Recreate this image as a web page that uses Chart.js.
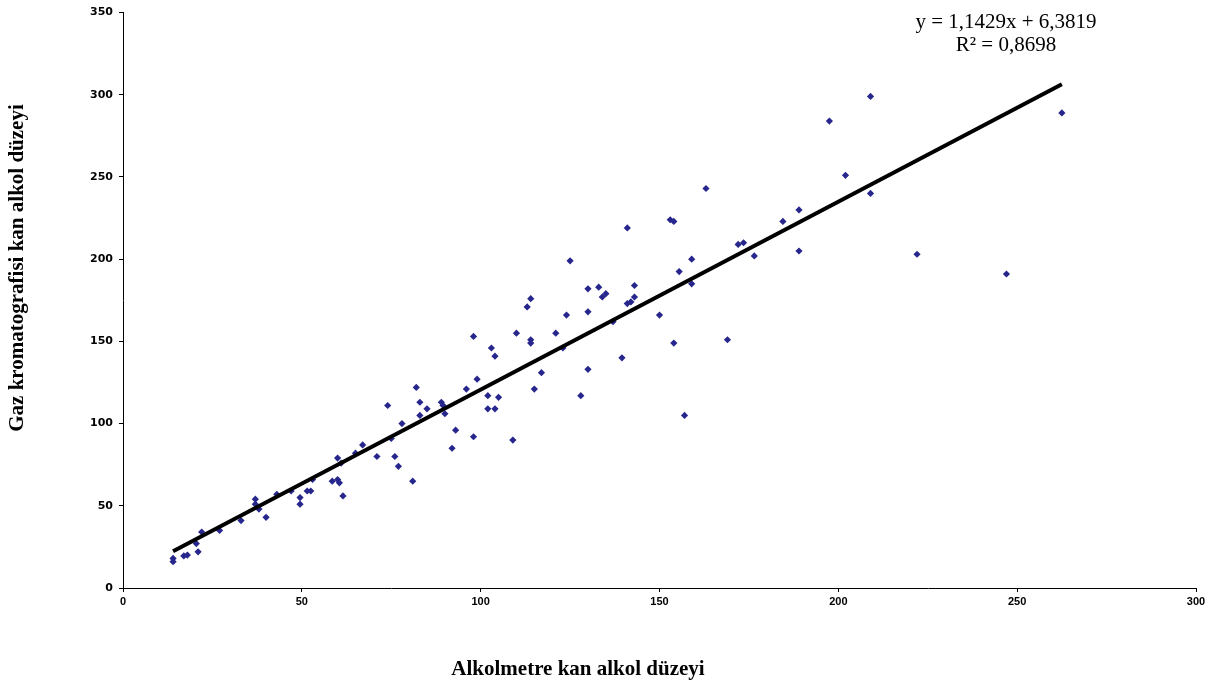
<!DOCTYPE html>
<html>
<head>
<meta charset="utf-8">
<script src="https://cdn.jsdelivr.net/npm/chart.js"></script>
<style>
  html, body { margin:0; padding:0; background:#fff; }
  #wrap { width:1213px; height:686px; }
</style>
</head>
<body>
<div id="wrap"><canvas id="chart" width="1213" height="686"></canvas></div>
<script>
// --- data ---
const alkolmetre = [14,14,17,18,20.5,21,22,27,33,37,37,38,40,43,47,49.5,49.5,51.5,52.5,53,58.5,60,60.5,61.5,60,61,65,67,71,74,75,76,77,78,81,82,83,83,85,89,89.5,90,92,93,96,98,98,99,102,102,103,104,104,105,109,110,113,114,114,114,115,117,121,123,124,125,128,130,130,130,133,134,135,137,139.5,141,141,142,143,143,150,153,154,154,155.5,157,159,159,163,169,172,173.5,176.5,184.5,189,189,197.5,202,209,209,222,247,262.5];
const gazKromatografi = [18,16,19.5,20,27,22,34,35,41,54,51,48,43,57,59,55,51,59,59,66,65,66,64,56,79,76,82,87,80,111,91,80,74,100,65,122,113,105,109,113,111,106,85,96,121,153,92,127,117,109,146,141,109,116,90,155,171,151,149,176,121,131,155,146,166,199,117,182,168,133,183,177,179,162,140,219,173,174,177,184,166,224,223,149,192.5,105,200,185,243,151,209,210,202,223,230,205,284,251,299,240,203,191,289];

// trend line as printed on the chart
const slope = 1.1429;
const intercept = 6.3819;
const equationLines = ['y = 1,1429x + 6,3819', 'R² = 0,8698'];
const xTitle = 'Alkolmetre kan alkol düzeyi';
const yTitle = 'Gaz kromatografisi kan alkol düzeyi';

const points = alkolmetre.map((x, i) => ({x: x, y: gazKromatografi[i]}));
const xMin = Math.min(...alkolmetre), xMax = Math.max(...alkolmetre);
const trend = [xMin, xMax].map(x => ({x: x, y: slope * x + intercept}));

// titles + equation drawn by hand so they sit where the original has them
const textPlugin = {
  id: 'texts',
  afterDraw(chart) {
    const c = chart.ctx;
    c.save();
    c.fillStyle = '#000';
    c.textAlign = 'center';
    c.textBaseline = 'middle';
    c.font = 'bold 21px "Liberation Serif", serif';
    c.fillText(xTitle, 578, 670);
    c.translate(18, 268);
    c.rotate(-Math.PI / 2);
    c.fillText(yTitle, 0, 0);
    c.restore();

    c.save();
    c.fillStyle = '#000';
    c.textAlign = 'center';
    c.textBaseline = 'middle';
    c.font = '21px "Liberation Serif", serif';
    c.fillText(equationLines[0], 1006, 22);
    c.fillText(equationLines[1], 1006, 45);
    c.restore();
  }
};

new Chart(document.getElementById('chart').getContext('2d'), {
  type: 'scatter',
  data: {
    datasets: [
      {label: 'data', data: points, pointStyle: 'rectRot', pointRadius: 3.6, pointHoverRadius: 3.6,
       backgroundColor: '#26268c', borderColor: '#26268c', borderWidth: 0, order: 2},
      {label: 'trend', type: 'line', data: trend, borderColor: '#000', borderWidth: 4,
       pointRadius: 0, fill: false, order: 1}
    ]
  },
  options: {
    responsive: false,
    animation: false,
    layout: {padding: {left: 0, right: 17, top: 10, bottom: 0}},
    plugins: {legend: {display: false}, tooltip: {enabled: false}},
    scales: {
      x: {
        type: 'linear', min: 0, max: 300,
        afterFit: s => { s.height = 98; },
        ticks: {stepSize: 50, color: '#000', padding: 3,
                font: {family: '"Liberation Sans", Arial', size: 11, weight: 'bold'}},
        grid: {drawOnChartArea: false, drawTicks: true, tickLength: 4, color: '#000'},
        border: {color: '#000', width: 1}
      },
      y: {
        type: 'linear', min: 0, max: 350,
        afterFit: s => { s.width = 123; },
        ticks: {stepSize: 50, color: '#000', padding: 6,
                font: {family: '"DejaVu Sans", sans-serif', size: 11, weight: 'bold'}},
        grid: {drawOnChartArea: false, drawTicks: true, tickLength: 4, color: '#000'},
        border: {color: '#000', width: 1}
      }
    }
  },
  plugins: [textPlugin]
});
</script>
</body>
</html>
